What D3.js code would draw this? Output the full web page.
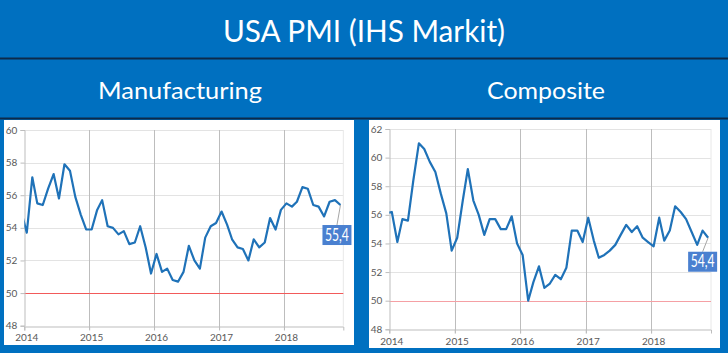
<!DOCTYPE html>
<html>
<head>
<meta charset="utf-8">
<script src="https://cdn.jsdelivr.net/npm/d3@7/dist/d3.min.js"></script>
<style>
  body { margin: 0; background: #0070c0; }
  svg { display: block; font-family: Lato, 'Open Sans', sans-serif; }
</style>
</head>
<body>
<svg id="chart"></svg>
<script>
const W = 728
const H = 353

// monthly readings, Dec 2013 .. Nov 2018
const manufacturing = [55.0,
  53.7, 57.1, 55.5, 55.4, 56.4, 57.3, 55.8, 57.9, 57.5, 55.9, 54.8, 53.9,
  53.9, 55.1, 55.7, 54.1, 54.0, 53.6, 53.8, 53.0, 53.1, 54.1, 52.8, 51.2,
  52.4, 51.3, 51.5, 50.8, 50.7, 51.3, 52.9, 52.0, 51.5, 53.4, 54.1, 54.3,
  55.0, 54.2, 53.3, 52.8, 52.7, 52.0, 53.3, 52.8, 53.1, 54.6, 53.9, 55.1,
  55.5, 55.3, 55.6, 56.5, 56.4, 55.4, 55.3, 54.7, 55.6, 55.7, 55.4]

const composite = [56.1,
  56.2, 54.1, 55.7, 55.6, 58.4, 61.0, 60.6, 59.7, 59.0, 57.5, 56.1, 53.5,
  54.4, 57.0, 59.2, 57.0, 56.0, 54.6, 55.7, 55.7, 55.0, 55.0, 55.9, 54.0,
  53.2, 50.0, 51.3, 52.4, 50.9, 51.2, 51.8, 51.5, 52.3, 54.9, 54.9, 54.1,
  55.8, 54.2, 53.0, 53.2, 53.5, 53.9, 54.6, 55.3, 54.8, 55.2, 54.4, 54.1,
  53.8, 55.8, 54.2, 54.9, 56.6, 56.2, 55.7, 54.8, 53.9, 54.9, 54.4]

const years = [2014, 2015, 2016, 2017, 2018]
const manufTicks = [48, 50, 52, 54, 56, 58, 60]
const compTicks = [48, 50, 52, 54, 56, 58, 60, 62]

// one point per month, plotted mid-month
const months = d3.timeMonth.range(new Date(2013, 11, 1), new Date(2018, 11, 1))
  .map(d => d3.timeDay.offset(d, 14))

const svg = d3.select('#chart').attr('width', W).attr('height', H)

svg.append('rect').attr('width', W).attr('height', H).attr('fill', '#0070c0')

svg.append('text')
  .attr('x', 364).attr('y', 42)
  .attr('text-anchor', 'middle')
  .attr('fill', 'white')
  .attr('font-size', 30)
  .attr('textLength', 282).attr('lengthAdjust', 'spacingAndGlyphs')
  .text('USA PMI (IHS Markit)')

svg.append('line').attr('x1', 0).attr('x2', W).attr('y1', 58.5).attr('y2', 58.5)
  .attr('stroke', '#0d2a4a').attr('stroke-width', 2)
svg.append('line').attr('x1', 0).attr('x2', W).attr('y1', 118.5).attr('y2', 118.5)
  .attr('stroke', '#0d2a4a').attr('stroke-width', 2)

svg.append('text')
  .attr('x', 180).attr('y', 99)
  .attr('text-anchor', 'middle').attr('fill', 'white')
  .attr('font-size', 24)
  .attr('textLength', 164).attr('lengthAdjust', 'spacingAndGlyphs')
  .text('Manufacturing')

svg.append('text')
  .attr('x', 546).attr('y', 99)
  .attr('text-anchor', 'middle').attr('fill', 'white')
  .attr('font-size', 24)
  .attr('textLength', 118).attr('lengthAdjust', 'spacingAndGlyphs')
  .text('Composite')

function drawChart(cfg) {
  const g = svg.append('g')

  g.append('rect')
    .attr('x', cfg.panel[0]).attr('y', cfg.panel[1])
    .attr('width', cfg.panel[2]).attr('height', cfg.panel[3])
    .attr('fill', 'white')

  const x = d3.scaleTime()
    .domain([new Date(2014, 0, 1), new Date(2018, 11, 1)])
    .range([cfg.x0, cfg.x1])
  const y = d3.scaleLinear()
    .domain(d3.extent(cfg.ticks))
    .range([cfg.y0, cfg.y1])

  // horizontal gridlines (50 gets the red line instead)
  g.selectAll('line.hgrid').data(cfg.ticks.filter(d => d !== 50).slice(1)).enter()
    .append('line')
    .attr('x1', cfg.x0).attr('x2', cfg.x1)
    .attr('y1', d => Math.round(y(d)) + 0.5).attr('y2', d => Math.round(y(d)) + 0.5)
    .attr('stroke', '#e3e3e3')

  g.append('line')
    .attr('x1', cfg.x1).attr('x2', cfg.x1)
    .attr('y1', cfg.y1).attr('y2', cfg.y0)
    .attr('stroke', '#e8e8e8')

  // year gridlines
  g.selectAll('line.vgrid').data(years.slice(1)).enter()
    .append('line')
    .attr('x1', d => Math.round(x(new Date(d, 0, 1))) + 0.5)
    .attr('x2', d => Math.round(x(new Date(d, 0, 1))) + 0.5)
    .attr('y1', cfg.y1).attr('y2', cfg.y0 + 4)
    .attr('stroke', '#bdbdbd')

  // 50 line
  g.append('line')
    .attr('x1', cfg.x0).attr('x2', cfg.x1)
    .attr('y1', Math.round(y(50)) + 0.5).attr('y2', Math.round(y(50)) + 0.5)
    .attr('stroke', cfg.redColor)

  // axes
  const xAxis = d3.axisBottom(x)
    .tickValues(years.map(d => new Date(d, 0, 1)))
    .tickSize(4).tickFormat('')
  g.append('g')
    .attr('transform', 'translate(0,' + (Math.round(cfg.y0) + 0.5) + ')')
    .call(xAxis)
    .call(a => a.selectAll('line, path').attr('stroke', '#bdbdbd'))

  const yAxis = d3.axisLeft(y).tickValues(cfg.ticks).tickSize(4).tickFormat('')
  g.append('g')
    .attr('transform', 'translate(' + (Math.round(cfg.x0) + 0.5) + ',0)')
    .call(yAxis)
    .call(a => a.selectAll('line, path').attr('stroke', '#bdbdbd'))

  g.selectAll('text.ylab').data(cfg.ticks).enter()
    .append('text')
    .attr('x', cfg.x0 - 7).attr('y', d => y(d) + 3.5)
    .attr('text-anchor', 'end')
    .attr('font-size', 10).attr('fill', '#595959')
    .text(d => d)

  g.selectAll('text.xlab').data(years).enter()
    .append('text')
    .attr('x', d => x(new Date(d, 0, 1)) + 2.5)
    .attr('y', cfg.y0 + 15.5)
    .attr('text-anchor', 'middle')
    .attr('font-size', 10).attr('fill', '#595959')
    .text(d => d)

  const clipId = 'clip-' + cfg.name
  g.append('clipPath').attr('id', clipId)
    .append('rect')
    .attr('x', cfg.x0).attr('y', cfg.y1 - 5)
    .attr('width', cfg.x1 - cfg.x0).attr('height', cfg.y0 - cfg.y1 + 10)

  const line = d3.line()
    .x((d, i) => x(months[i]))
    .y(d => y(d))

  g.append('path')
    .datum(cfg.values)
    .attr('clip-path', 'url(#' + clipId + ')')
    .attr('d', line)
    .attr('fill', 'none')
    .attr('stroke', '#1f72b8')
    .attr('stroke-width', 2.2)
    .attr('stroke-linejoin', 'round')

  // last value label
  const last = cfg.values[cfg.values.length - 1]
  const lx = x(months[months.length - 1])
  const ly = y(last)
  const bx = lx + cfg.labelDx
  const by = ly + cfg.labelDy
  g.append('line')
    .attr('x1', lx).attr('y1', ly)
    .attr('x2', bx - 4).attr('y2', by)
    .attr('stroke', '#a6a6a6')
  g.append('rect')
    .attr('x', bx - 18.5).attr('y', by)
    .attr('width', 29).attr('height', 20)
    .attr('fill', '#4a80d0')
  g.append('text')
    .attr('x', bx - 4).attr('y', by + 15.5)
    .attr('text-anchor', 'middle')
    .attr('fill', 'white').attr('font-size', 17)
    .attr('textLength', 24).attr('lengthAdjust', 'spacingAndGlyphs')
    .text(d3.format('.1f')(last).replace('.', ','))
}

drawChart({
  name: 'manuf',
  panel: [4, 120, 350, 225],
  x0: 24.3, x1: 343.3, y0: 325.7, y1: 130,
  ticks: manufTicks,
  values: manufacturing,
  redColor: '#f25a5a',
  labelDx: 0.5, labelDy: 20
})

drawChart({
  name: 'comp',
  panel: [369, 120, 351, 228],
  x0: 389.3, x1: 711, y0: 329.3, y1: 129,
  ticks: compTicks,
  values: composite,
  redColor: '#f5a0a4',
  labelDx: -1.5, labelDy: 14
})
</script>
</body>
</html>
